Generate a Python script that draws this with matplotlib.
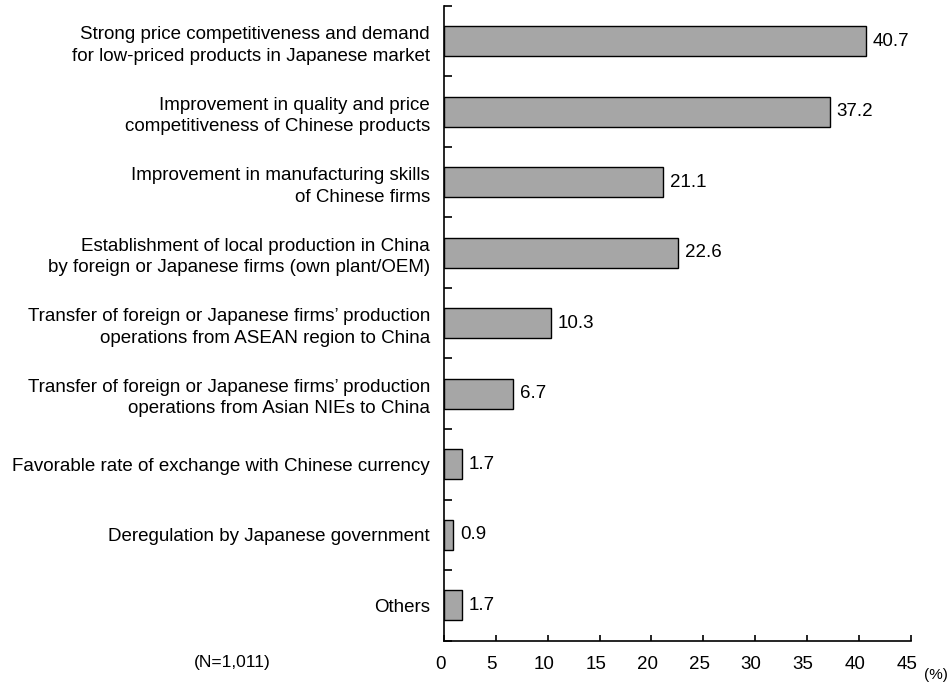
import matplotlib.pyplot as plt
import matplotlib.transforms as mtransforms
import numpy as np

plt.rcParams["font.family"] = ["Liberation Sans", "DejaVu Sans"]

reasons = [
    "Strong price competitiveness and demand\nfor low-priced products in Japanese market",
    "Improvement in quality and price\ncompetitiveness of Chinese products",
    "Improvement in manufacturing skills\nof Chinese firms",
    "Establishment of local production in China\nby foreign or Japanese firms (own plant/OEM)",
    "Transfer of foreign or Japanese firms\u2019 production\noperations from ASEAN region to China",
    "Transfer of foreign or Japanese firms\u2019 production\noperations from Asian NIEs to China",
    "Favorable rate of exchange with Chinese currency",
    "Deregulation by Japanese government",
    "Others",
]
shares = [40.7, 37.2, 21.1, 22.6, 10.3, 6.7, 1.7, 0.9, 1.7]
xticks = [0, 5, 10, 15, 20, 25, 30, 35, 40, 45]

fig = plt.figure(figsize=(9.52, 6.84), dpi=100)
ax = fig.add_axes([444 / 952, 1 - 640.5 / 684, (910.7 - 444) / 952, (640.5 - 6) / 684])

pos = np.arange(len(reasons))
bars = ax.barh(pos, shares, height=0.42, color="#a6a6a6",
               edgecolor="black", linewidth=1.0)
ax.set_ylim(len(reasons) - 0.5, -0.5)
ax.set_xlim(0, 45)

for rect, v in zip(bars, shares):
    ax.annotate(f"{v:.1f}", (rect.get_width(), rect.get_y() + rect.get_height() / 2),
                xytext=(5, 0), textcoords="offset points",
                ha="left", va="center", fontsize=13.5)

ax.set_yticks(pos)
ax.set_yticklabels(reasons, fontsize=13.5, linespacing=1.35)
ax.set_yticks(np.arange(len(reasons) + 1) - 0.5, minor=True)
ax.tick_params(axis="y", which="major", length=0, pad=10)
ax.tick_params(axis="y", which="minor", direction="in", length=6, width=1.2)

ax.set_xticks(xticks)
ax.set_xticklabels([str(t) for t in xticks], fontsize=13.5)
ax.tick_params(axis="x", direction="in", length=4.5, width=1.2, pad=11)
# x labels sit a little to the left of their ticks
shift = mtransforms.ScaledTranslation(-4 / 100, 0, fig.dpi_scale_trans)
for lbl in ax.get_xticklabels():
    lbl.set_transform(lbl.get_transform() + shift)

for side in ("top", "right"):
    ax.spines[side].set_visible(False)
for side in ("left", "bottom"):
    ax.spines[side].set_linewidth(1.2)

fig.text(936 / 952, 1 - 675 / 684, "(%)", fontsize=11, ha="center", va="center")
fig.text(232 / 952, 1 - 662 / 684, "(N=1,011)", fontsize=12.5, ha="center", va="center")

fig.savefig("out.png", dpi=100)
